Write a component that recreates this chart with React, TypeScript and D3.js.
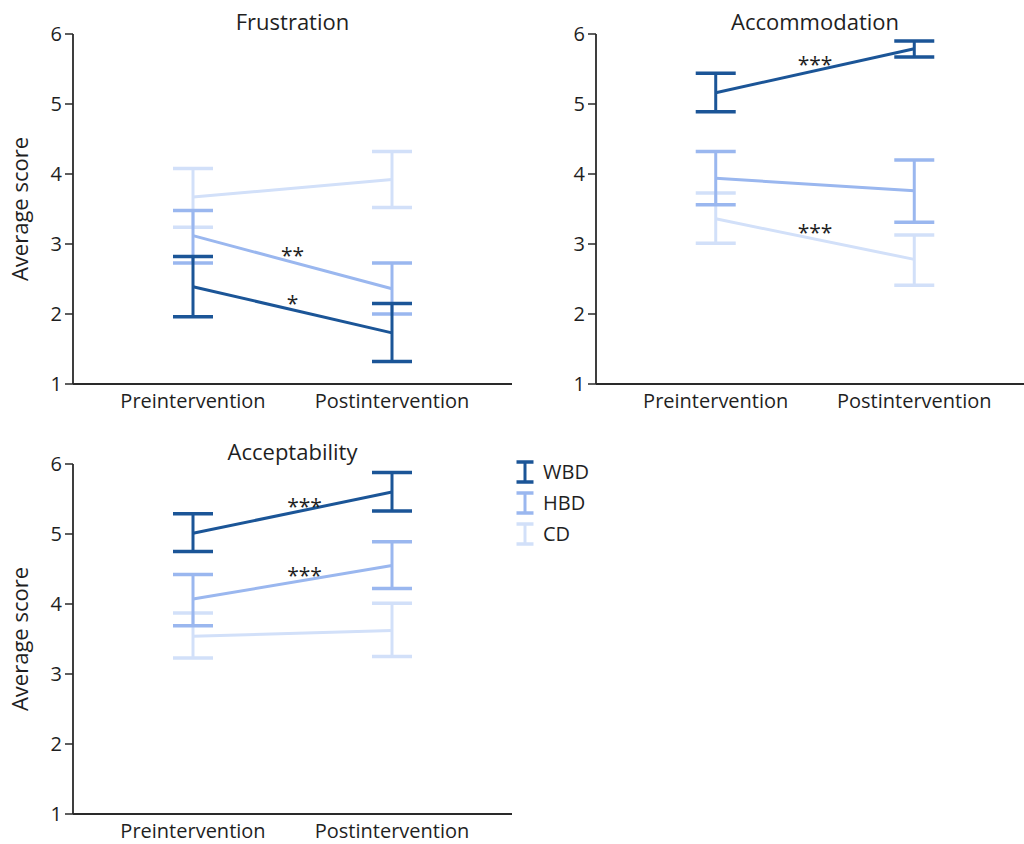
import React from 'react';
import * as d3 from 'd3';

// ---- data ----
const phases = ['Preintervention', 'Postintervention'];
const groups = ['WBD', 'HBD', 'CD'];
const groupColors = ['#1b5597', '#9ab7ef', '#d2e0f9'];
const yTicks = [1, 2, 3, 4, 5, 6];

// each entry: [mean, lower, upper] for pre and post
const frustrationWBD = [[2.39, 1.96, 2.82], [1.73, 1.32, 2.15]];
const frustrationHBD = [[3.12, 2.73, 3.48], [2.36, 2.0, 2.73]];
const frustrationCD = [[3.67, 3.24, 4.08], [3.92, 3.52, 4.32]];

const accommodationWBD = [[5.16, 4.89, 5.44], [5.79, 5.67, 5.9]];
const accommodationHBD = [[3.94, 3.56, 4.32], [3.76, 3.31, 4.2]];
const accommodationCD = [[3.36, 3.01, 3.73], [2.78, 2.41, 3.13]];

const acceptabilityWBD = [[5.01, 4.75, 5.29], [5.6, 5.33, 5.88]];
const acceptabilityHBD = [[4.07, 3.69, 4.42], [4.55, 4.22, 4.89]];
const acceptabilityCD = [[3.54, 3.23, 3.87], [3.62, 3.25, 4.01]];

const frustrationStars = [{ group: 'HBD', text: '**' }, { group: 'WBD', text: '*' }];
const accommodationStars = [{ group: 'WBD', text: '***' }, { group: 'CD', text: '***' }];
const acceptabilityStars = [{ group: 'WBD', text: '***' }, { group: 'HBD', text: '***' }];

// ---- layout ----
const FONT = '"Open Sans", "Noto Sans", sans-serif';
const TEXT = '#1f1f1f';
const AXIS = '#2a2a2a';

const panels = [
  { title: 'Frustration', series: { WBD: frustrationWBD, HBD: frustrationHBD, CD: frustrationCD }, stars: frustrationStars, left: 73, right: 512, top: 34, bottom: 384, cap: 20, starDx: 0, yLabel: true },
  { title: 'Accommodation', series: { WBD: accommodationWBD, HBD: accommodationHBD, CD: accommodationCD }, stars: accommodationStars, left: 596, right: 1034, top: 34, bottom: 384, cap: 20, starDx: 0, yLabel: false },
  { title: 'Acceptability', series: { WBD: acceptabilityWBD, HBD: acceptabilityHBD, CD: acceptabilityCD }, stars: acceptabilityStars, left: 73, right: 512, top: 464, bottom: 814, cap: 20, starDx: 12, yLabel: true },
];

function Panel({ p }: { p: any }) {
  const x = d3.scalePoint<string>().domain(phases).range([p.left, p.right]).padding(0.603);
  const y = d3.scaleLinear().domain([1, 6]).range([p.bottom, p.top]);
  const line = d3.line<number[]>().x((d, i) => x(phases[i]) as number).y((d) => y(d[0]));
  const drawOrder = [...groups].reverse();
  const cx = (p.left + p.right) / 2;
  return (
    <g>
      <text x={cx} y={p.top - 4} textAnchor="middle" fontSize={22} fill={TEXT} fontFamily={FONT}>{p.title}</text>
      {/* axes */}
      <line x1={p.left} x2={p.left} y1={p.top} y2={p.bottom} stroke={AXIS} strokeWidth={1.8} />
      <line x1={p.left} x2={p.right} y1={p.bottom} y2={p.bottom} stroke={AXIS} strokeWidth={1.8} />
      {yTicks.map((t) => (
        <g key={t}>
          <line x1={p.left - 8} x2={p.left} y1={y(t)} y2={y(t)} stroke={AXIS} strokeWidth={1.5} />
          <text x={p.left - 11} y={y(t)} dy="0.36em" textAnchor="end" fontSize={20} fill={TEXT} fontFamily={FONT}>{t}</text>
        </g>
      ))}
      {phases.map((ph) => (
        <text key={ph} x={x(ph)} y={p.bottom + 24} textAnchor="middle" fontSize={20} fill={TEXT} fontFamily={FONT}>{ph}</text>
      ))}
      {p.yLabel && (
        <text transform={`translate(28,${(p.top + p.bottom) / 2}) rotate(-90)`} textAnchor="middle" fontSize={22} fill={TEXT} fontFamily={FONT}>Average score</text>
      )}
      {/* series */}
      {drawOrder.map((g) => {
        const c = groupColors[groups.indexOf(g)];
        const vals: number[][] = p.series[g];
        return (
          <g key={g}>
            <path d={line(vals) as string} fill="none" stroke={c} strokeWidth={3} />
            {vals.map((v, i) => {
              const px = x(phases[i]) as number;
              return (
                <g key={i}>
                  <line x1={px} x2={px} y1={y(v[1])} y2={y(v[2])} stroke={c} strokeWidth={3} />
                  <line x1={px - p.cap} x2={px + p.cap} y1={y(v[1])} y2={y(v[1])} stroke={c} strokeWidth={3.5} />
                  <line x1={px - p.cap} x2={px + p.cap} y1={y(v[2])} y2={y(v[2])} stroke={c} strokeWidth={3.5} />
                </g>
              );
            })}
          </g>
        );
      })}
      {p.stars.map((s: any, i: number) => {
        const vals: number[][] = p.series[s.group];
        const mx = ((x(phases[0]) as number) + (x(phases[1]) as number)) / 2 + p.starDx;
        const my = y((vals[0][0] + vals[1][0]) / 2) + 1;
        return (
          <text key={i} x={mx} y={my} textAnchor="middle" fontSize={21} fill={TEXT} fontFamily={FONT}>{s.text}</text>
        );
      })}
    </g>
  );
}

function Legend() {
  const lx = 525;
  const ly = d3.scalePoint<string>().domain(groups).range([472, 534]);
  return (
    <g>
      {groups.map((g, i) => {
        const cy = ly(g) as number;
        const c = groupColors[i];
        return (
          <g key={g}>
            <line x1={lx} x2={lx} y1={cy - 10} y2={cy + 10} stroke={c} strokeWidth={3} />
            <line x1={lx - 8.5} x2={lx + 8.5} y1={cy - 10} y2={cy - 10} stroke={c} strokeWidth={3.5} />
            <line x1={lx - 8.5} x2={lx + 8.5} y1={cy + 10} y2={cy + 10} stroke={c} strokeWidth={3.5} />
            <text x={543} y={cy} dy="0.36em" fontSize={20} fill={TEXT} fontFamily={FONT}>{g}</text>
          </g>
        );
      })}
    </g>
  );
}

export default function App() {
  return (
    <svg width={1024} height={844} style={{ position: 'absolute', left: 0, top: 0, background: '#fff' }}>
      <rect width={1024} height={844} fill="#fff" />
      {panels.map((p) => (
        <Panel key={p.title} p={p} />
      ))}
      <Legend />
    </svg>
  );
}
